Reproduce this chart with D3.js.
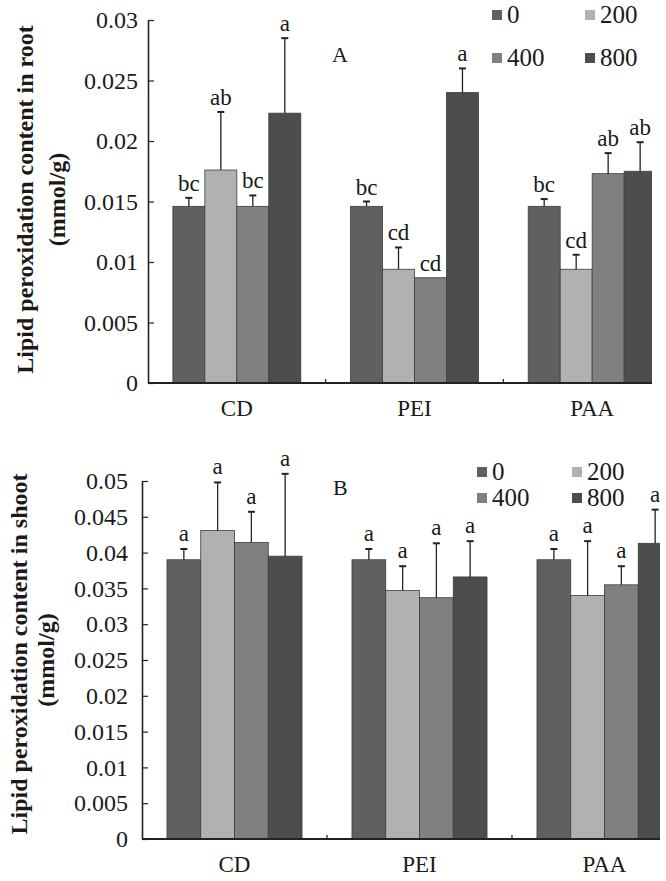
<!DOCTYPE html>
<html><head><meta charset="utf-8">
<script src="https://cdn.jsdelivr.net/npm/d3@7"></script>
<style>
body{margin:0;background:#fff;}
text{font-family:"Liberation Serif","Times New Roman",serif;fill:#1a1a1a;}
</style></head>
<body><svg id="c" width="666" height="881"></svg>
<script>
// ---- data ----
const categories = ["CD", "PEI", "PAA"];
const seriesNames = ["0", "200", "400", "800"];
const seriesColors = ["#606060", "#b1b1b1", "#808080", "#4d4d4d"];

// Panel A: root
const rootValues = [
  [0.0146, 0.0176, 0.0146, 0.0223],   // CD
  [0.0146, 0.0094, 0.0087, 0.0240],   // PEI
  [0.0146, 0.0094, 0.0173, 0.0175]    // PAA
];
const rootErrTop = [
  [0.0153, 0.0224, 0.0155, 0.0285],
  [0.0150, 0.0112, 0.0087, 0.0260],
  [0.0152, 0.0106, 0.0190, 0.0199]
];
const rootLetters = [
  ["bc", "ab", "bc", "a"],
  ["bc", "cd", "cd", "a"],
  ["bc", "cd", "ab", "ab"]
];
const rootTicks = [0, 0.005, 0.01, 0.015, 0.02, 0.025, 0.03];
const rootTickLabels = ["0", "0.005", "0.01", "0.015", "0.02", "0.025", "0.03"];

// Panel B: shoot
const shootValues = [
  [0.0390, 0.0431, 0.0414, 0.0395],
  [0.0390, 0.0347, 0.0337, 0.0366],
  [0.0390, 0.0340, 0.0355, 0.0413]
];
const shootErrTop = [
  [0.0405, 0.0498, 0.0457, 0.0510],
  [0.0405, 0.0381, 0.0413, 0.0416],
  [0.0405, 0.0416, 0.0381, 0.0460]
];
const shootLetters = [
  ["a", "a", "a", "a"],
  ["a", "a", "a", "a"],
  ["a", "a", "a", "a"]
];
const shootTicks = [0, 0.005, 0.01, 0.015, 0.02, 0.025, 0.03, 0.035, 0.04, 0.045, 0.05];
const shootTickLabels = ["0", "0.005", "0.01", "0.015", "0.02", "0.025", "0.03", "0.035", "0.04", "0.045", "0.05"];

const svg = d3.select("#c");

function panel(cfg) {
  const g = svg.append("g");
  const x = d3.scaleBand().domain(categories).range([cfg.left, cfg.right]).paddingInner(0).paddingOuter(0);
  const bw = x.bandwidth();
  const pad = bw * (1 - cfg.groupFrac) / 2;
  const x1 = d3.scaleBand().domain(seriesNames).range([pad, bw - pad]).padding(0);
  const y = d3.scaleLinear().domain([0, cfg.max]).range([cfg.bottom, cfg.top]);

  const clipId = "clip" + cfg.id;
  svg.append("clipPath").attr("id", clipId).append("rect")
    .attr("x", 0).attr("y", 0).attr("width", cfg.clipX).attr("height", 881);
  const cg = g.append("g").attr("clip-path", `url(#${clipId})`);

  const rows = [];
  categories.forEach((c, ci) => seriesNames.forEach((s, si) => rows.push({
    c, s, si, v: cfg.values[ci][si], e: cfg.err[ci][si], l: cfg.letters[ci][si]
  })));

  cg.selectAll("rect.bar").data(rows).join("rect").attr("class", "bar")
    .attr("x", d => x(d.c) + x1(d.s))
    .attr("y", d => y(d.v))
    .attr("width", x1.bandwidth())
    .attr("height", d => y(0) - y(d.v))
    .attr("fill", d => seriesColors[d.si])
    .attr("stroke", "#3c3c3c").attr("stroke-width", 0.8);

  const eb = rows.filter(d => d.e > d.v);
  cg.selectAll("line.err").data(eb).join("line").attr("class", "err")
    .attr("x1", d => x(d.c) + x1(d.s) + x1.bandwidth() / 2)
    .attr("x2", d => x(d.c) + x1(d.s) + x1.bandwidth() / 2)
    .attr("y1", d => y(d.v)).attr("y2", d => y(d.e))
    .attr("stroke", "#222").attr("stroke-width", 1.3);
  cg.selectAll("line.cap").data(eb).join("line").attr("class", "cap")
    .attr("x1", d => x(d.c) + x1(d.s) + x1.bandwidth() / 2 - 3.5)
    .attr("x2", d => x(d.c) + x1(d.s) + x1.bandwidth() / 2 + 3.5)
    .attr("y1", d => y(d.e)).attr("y2", d => y(d.e))
    .attr("stroke", "#222").attr("stroke-width", 2);

  cg.selectAll("text.lt").data(rows).join("text").attr("class", "lt")
    .attr("x", d => x(d.c) + x1(d.s) + x1.bandwidth() / 2)
    .attr("y", d => y(Math.max(d.e, d.v)) - cfg.letterGap)
    .attr("text-anchor", "middle")
    .style("font-size", cfg.letterSize + "px")
    .text(d => d.l);

  // y axis
  const ya = d3.axisLeft(y).tickValues(cfg.ticks)
    .tickFormat((d, i) => cfg.tickLabels[i])
    .tickSizeInner(-6).tickSizeOuter(0).tickPadding(cfg.tickPad);
  const yg = g.append("g").attr("transform", `translate(${cfg.left},0)`).call(ya);
  yg.selectAll("text").style("font-size", cfg.tickSize + "px").attr("fill", "#1a1a1a");
  yg.selectAll("line").attr("stroke", "#222").attr("stroke-width", 1.2);
  yg.select(".domain").attr("stroke", "#222").attr("stroke-width", 1.6);

  // x axis line
  cg.append("line").attr("x1", cfg.left).attr("x2", cfg.right)
    .attr("y1", y(0)).attr("y2", y(0)).attr("stroke", "#222").attr("stroke-width", 1.8);
  // boundary ticks
  cg.selectAll("line.bt").data(categories.slice(1)).join("line").attr("class", "bt")
    .attr("x1", d => x(d)).attr("x2", d => x(d))
    .attr("y1", y(0)).attr("y2", y(0) - 4).attr("stroke", "#222").attr("stroke-width", 1.2);

  // category labels
  const xa = d3.axisBottom(x).tickSize(0).tickPadding(cfg.catPad);
  const xg = g.append("g").attr("transform", `translate(0,${y(0)})`).call(xa);
  xg.select(".domain").remove();
  xg.selectAll("text").style("font-size", cfg.catSize + "px").attr("fill", "#1a1a1a");

  // panel letter
  g.append("text").attr("x", cfg.panelX).attr("y", cfg.panelY)
    .style("font-size", "22px").text(cfg.panelLabel);

  // y title
  const ty = (cfg.top + cfg.bottom) / 2 + cfg.titleShift;
  g.append("text").attr("transform", `translate(${cfg.titleX1},${ty}) rotate(-90)`)
    .attr("text-anchor", "middle").style("font-size", cfg.titleSize + "px")
    .style("font-weight", "bold").text(cfg.title);
  g.append("text").attr("transform", `translate(${cfg.titleX2},${ty + cfg.unitShift}) rotate(-90)`)
    .attr("text-anchor", "middle").style("font-size", cfg.titleSize + "px")
    .style("font-weight", "bold").text("(mmol/g)");

  // legend
  const lg = g.append("g");
  seriesNames.forEach((s, i) => {
    const lx = cfg.legX + (i % 2) * cfg.legDX;
    const ly = cfg.legY + Math.floor(i / 2) * cfg.legDY;
    lg.append("rect").attr("x", lx).attr("y", ly - 5).attr("width", 10).attr("height", 10)
      .attr("fill", seriesColors[i]);
    lg.append("text").attr("x", lx + 15).attr("y", ly + 8)
      .style("font-size", cfg.legSize + "px").text(s);
  });
}

panel({
  id: "A", left: 148, right: 681, top: 20, bottom: 383, max: 0.03, clipX: 652,
  groupFrac: 0.72, values: rootValues, err: rootErrTop, letters: rootLetters,
  ticks: rootTicks, tickLabels: rootTickLabels, tickPad: 10, tickSize: 24,
  letterGap: 7, letterSize: 23, catPad: 17, catSize: 23,
  panelLabel: "A", panelX: 332, panelY: 62,
  title: "Lipid peroxidation content in root", titleX1: 33, titleX2: 65, titleShift: -2, unitShift: 0, titleSize: 24,
  legX: 492, legY: 15, legDX: 93, legDY: 43, legSize: 25
});

panel({
  id: "B", left: 142, right: 697, top: 481, bottom: 839, max: 0.05, clipX: 660,
  groupFrac: 0.73, values: shootValues, err: shootErrTop, letters: shootLetters,
  ticks: shootTicks, tickLabels: shootTickLabels, tickPad: 14, tickSize: 24,
  letterGap: 8, letterSize: 23, catPad: 17, catSize: 23,
  panelLabel: "B", panelX: 333, panelY: 495,
  title: "Lipid peroxidation content in shoot", titleX1: 27, titleX2: 54, titleShift: -6, unitShift: 6, titleSize: 24,
  legX: 477, legY: 472, legDX: 95, legDY: 26, legSize: 25
});
</script></body></html>
